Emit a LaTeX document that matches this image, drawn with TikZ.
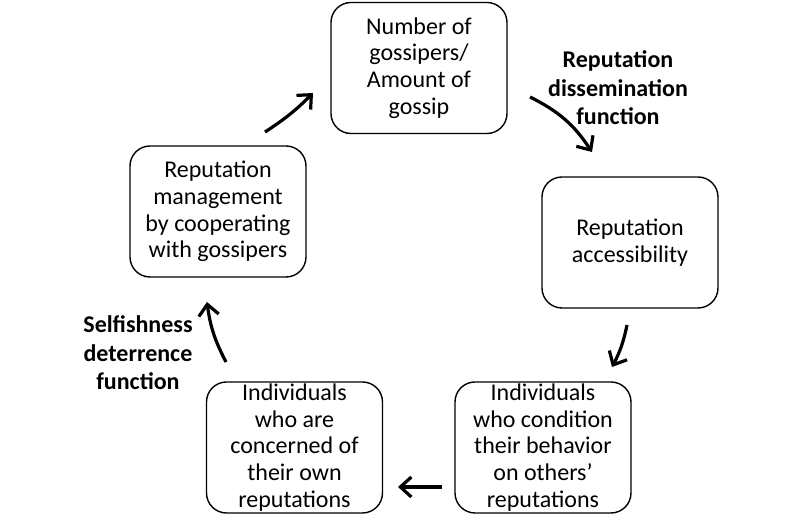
\documentclass[tikz,border=0pt]{standalone}
\usepackage{fontspec}
\setmainfont{Carlito}
\usetikzlibrary{arrows.meta}

\tikzset{
  box/.style={draw, rounded corners=10pt, line width=0.7pt, minimum width=88pt,
    minimum height=65.5pt, inner sep=0pt, align=center,
    font=\fontsize{12}{13.3}\selectfont},
  role/.style={align=center, font=\fontsize{12}{14.3}\selectfont\bfseries},
  flow/.style={line width=1.6pt, -{Straight Barb[length=5.5pt,width=10pt]}}
}

\begin{document}
\begin{tikzpicture}[x=0.5pt,y=0.5pt]
  \useasboundingbox (0,0) rectangle (800,530);
  % the five stages of the cycle
  \node[box] (gossip) at (419,462) {Number of\\gossipers/\\Amount of\\gossip};
  \node[box] (access) at (630,287.5) {Reputation\\accessibility};
  \node[box] (others) at (543,82.5) {Individuals\\who condition\\their behavior\\on others'\\reputations};
  \node[box] (own) at (294.5,82.5) {Individuals\\who are\\concerned of\\their own\\reputations};
  \node[box] (manage) at (218,318.5) {Reputation\\management\\by cooperating\\with gossipers};
  % functions
  \node[role] (dissem) at (618,442) {Reputation\\dissemination\\function};
  \node[role] (deter) at (138,177) {Selfishness\\deterrence\\function};
  % arrow ends
  \coordinate (a1s) at (265,398); \coordinate (a1e) at (313,437);
  \coordinate (a2s) at (530,433); \coordinate (a2e) at (592,378);
  \coordinate (a3s) at (627,205); \coordinate (a3e) at (612,163);
  \coordinate (a4s) at (442,43);  \coordinate (a4e) at (398,43);
  \coordinate (a5s) at (226,168); \coordinate (a5e) at (207,228);
  \draw[flow] (a1s) to[bend right=6] (a1e);
  \draw[flow] (a2s) to[bend left=15] (a2e);
  \draw[flow] (a3s) to[bend left=8] (a3e);
  \draw[flow] (a4s) -- (a4e);
  \draw[flow] (a5s) to[bend left=10] (a5e);
\end{tikzpicture}
\end{document}
